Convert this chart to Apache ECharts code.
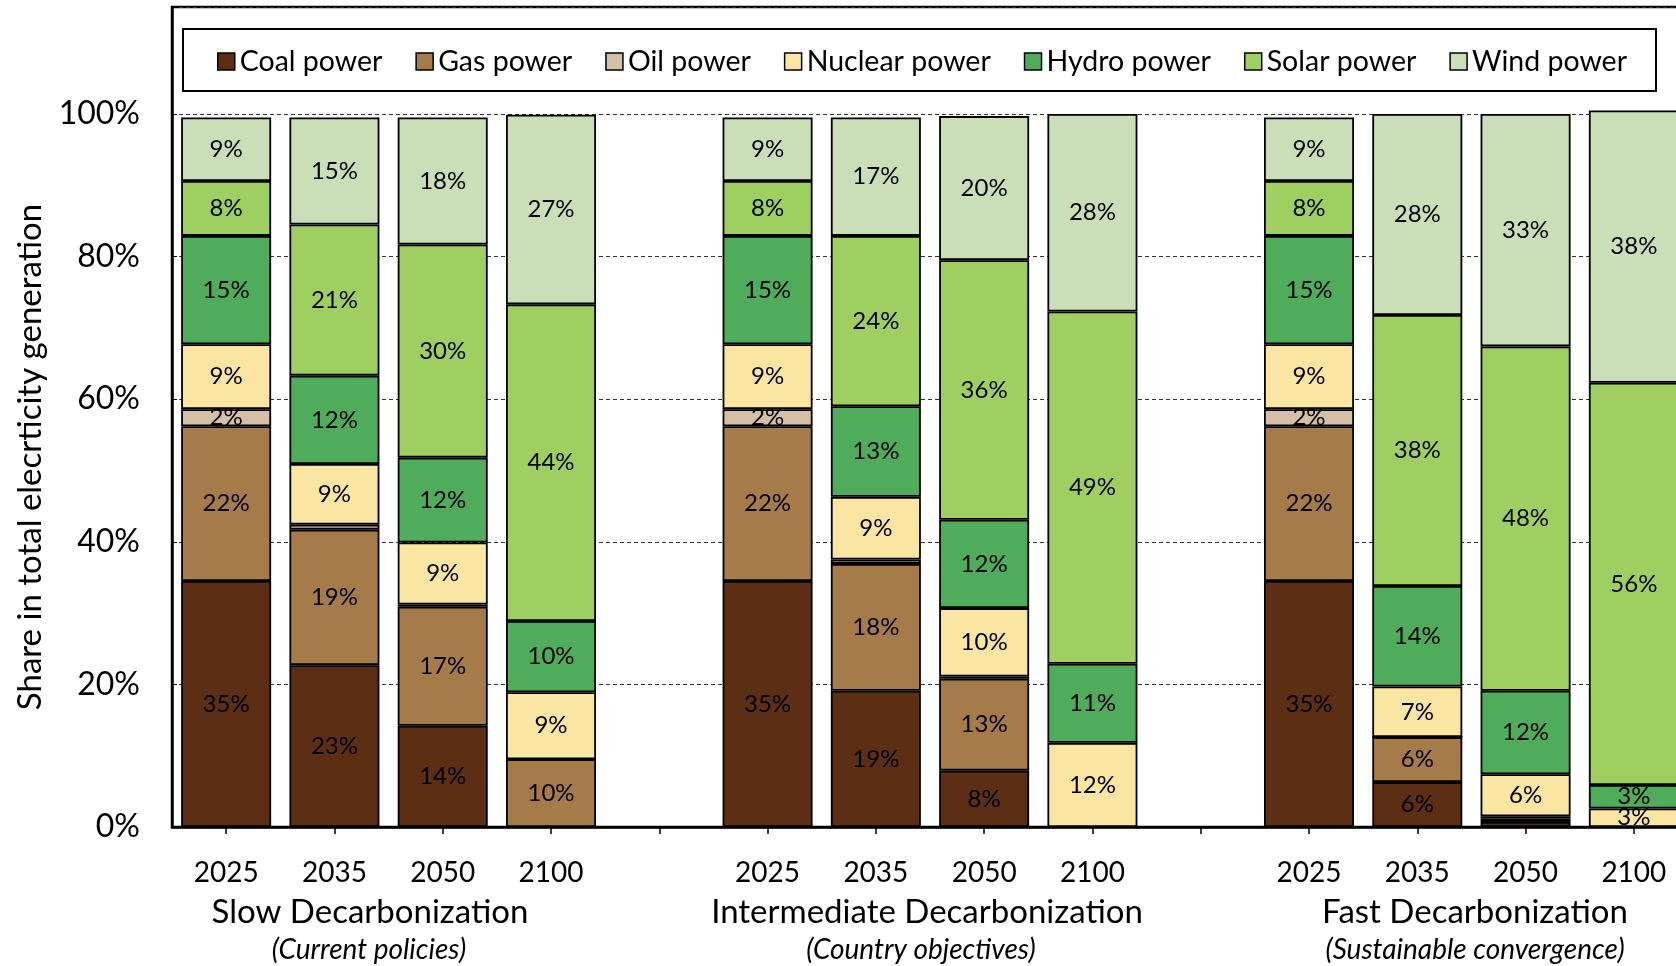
<!DOCTYPE html>
<html>
<head>
<meta charset="utf-8">
<script src="https://cdn.jsdelivr.net/npm/echarts@6/dist/echarts.min.js"></script>
<style>
html,body{margin:0;padding:0;background:#fff;}
#chart{width:1676px;height:966px;}
</style>
</head>
<body>
<div id="chart"></div>
<script>
// Categories (blank entries separate the three scenarios)
const categories = ['2025','2035','2050','2100','', '2025','2035','2050','2100','', '2025','2035','2050','2100'];
const seriesNames = ['Coal power','Gas power','Oil power','Nuclear power','Hydro power','Solar power','Wind power'];
const groupTitles = ['Slow Decarbonization','Intermediate Decarbonization','Fast Decarbonization'];
const groupSubtitles = ['(Current policies)','(Country objectives)','(Sustainable convergence)'];
const yTickLabels = ['0%','20%','40%','60%','80%','100%'];

// Shares in total electricity generation (%)
const coal    = [34.5, 22.7, 14.2, 0,    null, 34.5, 19.1, 7.9,  0,    null, 34.5, 6.3,  0.7,  0];
const gas     = [21.7, 19.0, 16.7, 9.5,  null, 21.7, 17.8, 12.9, 0,    null, 21.7, 6.3,  0.5,  0];
const oil     = [2.4,  0.7,  0.3,  0,    null, 2.4,  0.6,  0.3,  0,    null, 2.4,  0,    0.3,  0];
const nuclear = [9.1,  8.5,  8.7,  9.4,  null, 9.1,  8.8,  9.6,  11.8, null, 9.1,  7.1,  5.9,  2.6];
const hydro   = [15.2, 12.4, 11.9, 10.0, null, 15.2, 12.7, 12.4, 11.1, null, 15.2, 14.1, 11.7, 3.3];
const solar   = [7.7,  21.2, 29.9, 44.4, null, 7.7,  23.9, 36.4, 49.4, null, 7.7,  38.0, 48.3, 56.4];
const wind    = [8.9,  15.0, 17.8, 26.6, null, 8.9,  16.6, 20.2, 27.7, null, 8.9,  28.2, 32.6, 38.2];

const seriesData = [coal, gas, oil, nuclear, hydro, solar, wind];
const colors = ['#5C2E14','#A57B4A','#D5BFA5','#FBE5A2','#4EAC5B','#9FCF61','#CADFB8'];

const FONT = 'Lato';
const chart = echarts.init(document.getElementById('chart'));

const series = seriesNames.map((name, i) => ({
  name: name,
  type: 'bar',
  stack: 'total',
  barWidth: 90,
  data: seriesData[i],
  itemStyle: { color: colors[i], borderColor: '#000', borderWidth: 1.8 },
  label: {
    show: true,
    position: 'inside',
    fontFamily: FONT,
    fontSize: 24,
    color: '#000',
    formatter: p => (p.value != null && p.value >= 1.5) ? Math.round(p.value) + '%' : ''
  },
  emphasis: { disabled: true }
}));

const titleX = [370, 927, 1475];
const subX = [369, 921, 1475];
const graphics = [
  { type: 'rect', z: 0, shape: { x: 183, y: 29, width: 1473, height: 62 },
    style: { fill: 'none', stroke: '#000', lineWidth: 2 } },
  { type: 'text', x: 30, y: 457, rotation: Math.PI / 2,
    style: { text: 'Share in total elecrticity generation', font: '33px ' + FONT, fill: '#000',
             textAlign: 'center', textVerticalAlign: 'middle' } }
];
groupTitles.forEach((t, i) => {
  graphics.push({ type: 'text', x: titleX[i], y: 912,
    style: { text: t, font: '33px ' + FONT, fill: '#000', textAlign: 'center', textVerticalAlign: 'middle' } });
  graphics.push({ type: 'text', x: subX[i], y: 950,
    style: { text: groupSubtitles[i], font: 'italic 28px ' + FONT, fill: '#000', textAlign: 'center', textVerticalAlign: 'middle' } });
});

chart.setOption({
  animation: false,
  backgroundColor: '#fff',
  textStyle: { fontFamily: FONT },
  legend: {
    data: seriesNames,
    left: 217,
    top: 47,
    padding: 0,
    itemGap: 33,
    itemWidth: 17,
    itemHeight: 17,
    icon: 'rect',
    selectedMode: false,
    textStyle: { fontFamily: FONT, fontSize: 28.5, color: '#000' },
    itemStyle: { borderColor: '#000', borderWidth: 1.5 }
  },
  grid: {
    left: 172, top: 7, width: 1516, height: 820,
    outerBoundsMode: 'none',
    show: true, borderColor: '#000', borderWidth: 2.5, backgroundColor: 'transparent',
    containLabel: false
  },
  xAxis: {
    type: 'category',
    data: categories,
    axisLine: { show: true, lineStyle: { color: '#000', width: 2.5 } },
    axisTick: { show: true, alignWithLabel: true, length: 7, lineStyle: { color: '#000', width: 1.5 } },
    axisLabel: { fontFamily: FONT, fontSize: 28, color: '#000', margin: 32, interval: 0 },
    splitLine: { show: false }
  },
  yAxis: {
    type: 'value',
    min: 0, max: 115, interval: 20,
    axisLine: { show: true, lineStyle: { color: '#000', width: 2.5 } },
    axisTick: { show: true, inside: true, length: 5, lineStyle: { color: '#000' } },
    axisLabel: {
      fontFamily: FONT, fontSize: 32, color: '#000', margin: 32,
      formatter: v => (v <= 100 && v % 20 === 0) ? yTickLabels[v / 20] : ''
    },
    splitLine: { show: true, lineStyle: { color: '#333', width: 1, type: [4, 3] } }
  },
  graphic: graphics,
  series: series
});
</script>
</body>
</html>
